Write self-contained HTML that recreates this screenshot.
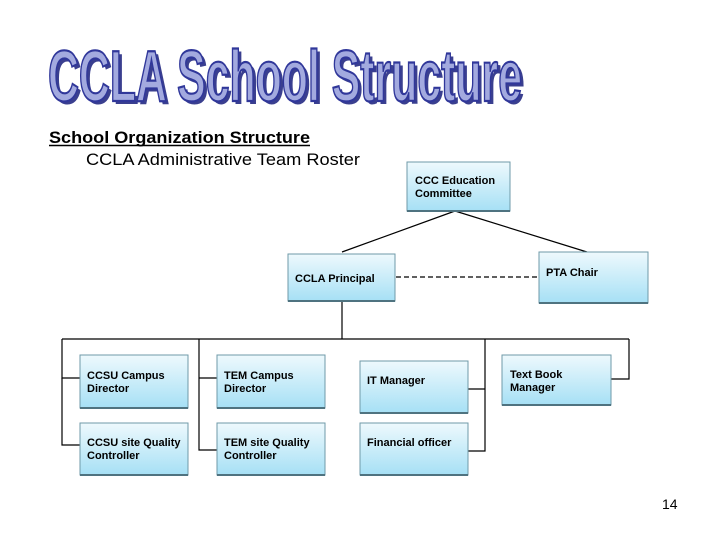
<!DOCTYPE html>
<html><head><meta charset="utf-8"><style>
html,body{margin:0;padding:0;background:#fff;}
svg{display:block;}
</style></head><body>
<svg width="720" height="540" viewBox="0 0 720 540" xmlns="http://www.w3.org/2000/svg">
<defs>
<linearGradient id="g" x1="0" y1="0" x2="0" y2="1">
<stop offset="0" stop-color="#eef9fd"/><stop offset="1" stop-color="#a6e0f5"/>
</linearGradient>
</defs>
<!-- title -->
<g font-family="'Liberation Sans',sans-serif" font-weight="bold" font-size="72">
<text x="51" y="104" textLength="474" lengthAdjust="spacingAndGlyphs" fill="#3a3f8f">CCLA School Structure</text>
<text x="48" y="101" textLength="474" lengthAdjust="spacingAndGlyphs" fill="#a3aadf" stroke="#30379a" stroke-width="2.2">CCLA School Structure</text>
</g>
<g font-family="'Liberation Sans',sans-serif" font-size="16.5" fill="#000">
<text x="49" y="143" font-weight="bold" textLength="261" lengthAdjust="spacingAndGlyphs">School Organization Structure</text>
<line x1="49" y1="145.5" x2="310" y2="145.5" stroke="#000" stroke-width="1.4"/>
<text x="86" y="165" textLength="274" lengthAdjust="spacingAndGlyphs">CCLA Administrative Team Roster</text>
<text x="662" y="509" font-size="14">14</text>
</g>
<!-- connectors -->
<g stroke="#000" stroke-width="1.2" fill="none">
<line x1="455" y1="211" x2="342" y2="252"/>
<line x1="455" y1="211" x2="587" y2="252"/>
<line x1="396" y1="277" x2="540" y2="277" stroke-dasharray="5,3"/>
<polyline points="342,301 342,339"/>
<polyline points="62,339 629,339"/>
<polyline points="629,339 629,379 611,379"/>
<polyline points="80,378 62,378 62,339"/>
<polyline points="62,378 62,445 80,445"/>
<polyline points="199,339 199,450 217,450"/>
<polyline points="199,378 217,378"/>
<polyline points="485,339 485,451 468,451"/>
<polyline points="485,389 468,389"/>
</g>
<!-- boxes -->
<g stroke="#6f9aa8" stroke-width="1" fill="url(#g)">
<rect x="407" y="162" width="103" height="49"/>
<rect x="288" y="254" width="107" height="47"/>
<rect x="539" y="252" width="109" height="51"/>
<rect x="80" y="355" width="108" height="53"/>
<rect x="80" y="423" width="108" height="52"/>
<rect x="217" y="355" width="108" height="53"/>
<rect x="217" y="423" width="108" height="52"/>
<rect x="360" y="361" width="108" height="52"/>
<rect x="360" y="423" width="108" height="52"/>
<rect x="502" y="355" width="109" height="50"/>
</g>
<g stroke="#4f7380" stroke-width="2">
<line x1="407" y1="211" x2="510" y2="211"/><line x1="288" y1="301" x2="395" y2="301"/>
<line x1="539" y1="303" x2="648" y2="303"/><line x1="80" y1="408" x2="188" y2="408"/>
<line x1="80" y1="475" x2="188" y2="475"/><line x1="217" y1="408" x2="325" y2="408"/>
<line x1="217" y1="475" x2="325" y2="475"/><line x1="360" y1="413" x2="468" y2="413"/>
<line x1="360" y1="475" x2="468" y2="475"/><line x1="502" y1="405" x2="611" y2="405"/>
</g>
<g font-family="'Liberation Sans',sans-serif" font-size="11" font-weight="bold" fill="#000">
<text x="415" y="184">CCC Education</text><text x="415" y="197">Committee</text>
<text x="295" y="282">CCLA Principal</text>
<text x="546" y="276">PTA Chair</text>
<text x="87" y="379">CCSU Campus</text><text x="87" y="392">Director</text>
<text x="87" y="446">CCSU site Quality</text><text x="87" y="459">Controller</text>
<text x="224" y="379">TEM Campus</text><text x="224" y="392">Director</text>
<text x="224" y="446">TEM site Quality</text><text x="224" y="459">Controller</text>
<text x="367" y="384">IT Manager</text>
<text x="367" y="446">Financial officer</text>
<text x="510" y="378">Text Book</text><text x="510" y="391">Manager</text>
</g>
</svg>
</body></html>
